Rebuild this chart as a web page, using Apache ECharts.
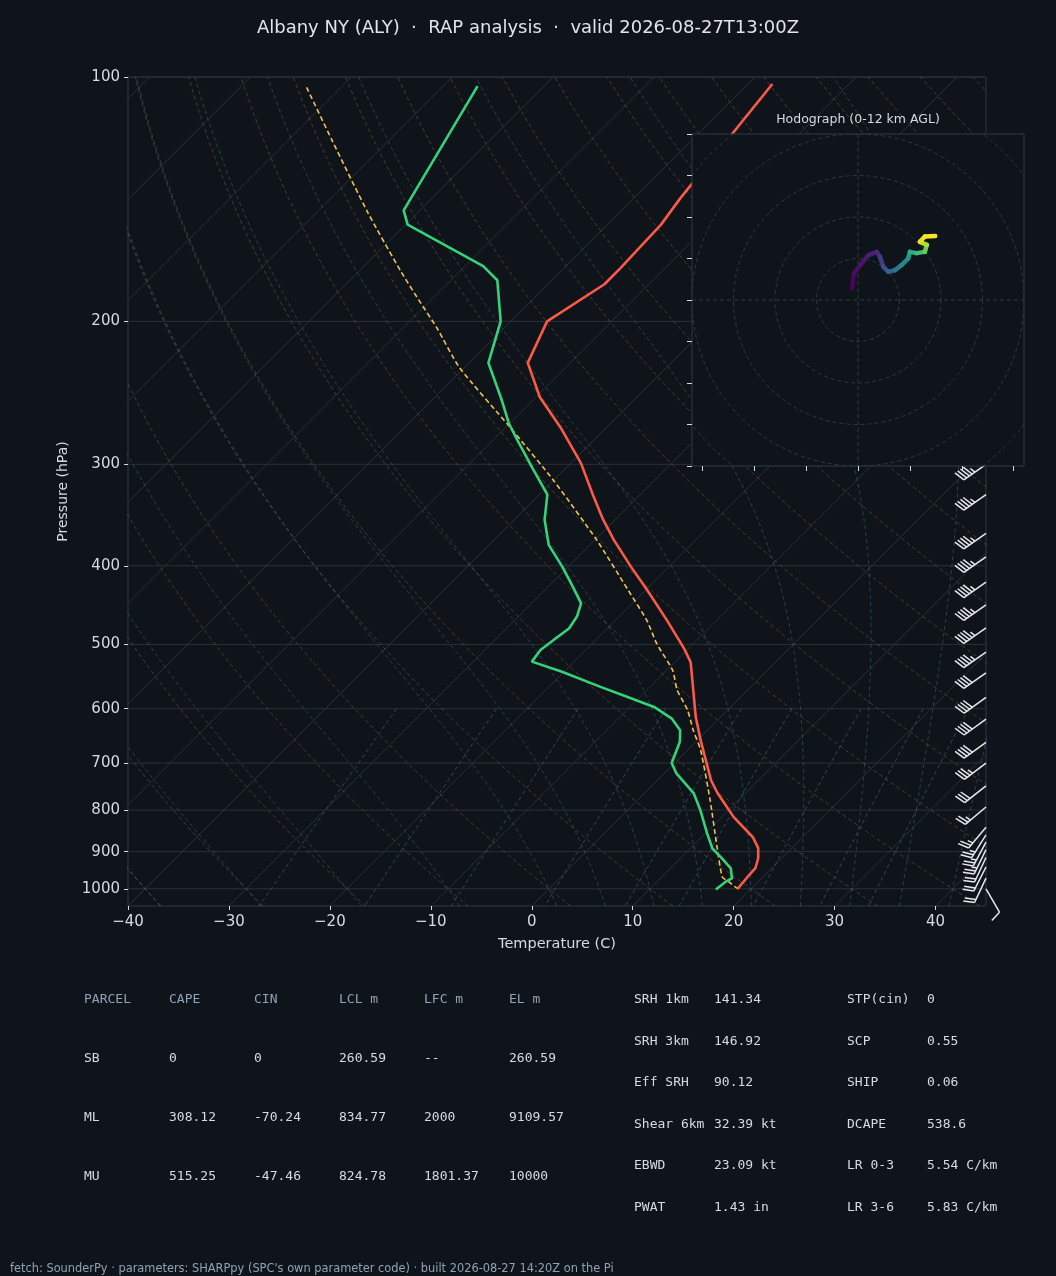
<!DOCTYPE html>
<html>
<head>
<meta charset="utf-8">
<title>Albany NY (ALY) sounding</title>
<script src="https://cdn.jsdelivr.net/npm/echarts@6.0.0/dist/echarts.min.js"></script>
<style>
html,body{margin:0;padding:0;background:#0f141a;}
#chart{width:1056px;height:1276px;}
</style>
</head>
<body>
<div id="chart"></div>
<script>
// axis ticks
const pressureTicks=[100,200,300,400,500,600,700,800,900,1000];
const tempTicks=[-40,-30,-20,-10,0,10,20,30,40];

// temperature profile (hPa / C)
const tempP=[102,141,152,172,180,200,225,248,270,299,329,351,372,401,429,467,506,526,569,614,656,735,762,816,864,891,917,943,967,1001];
const tempC=[-57.6,-55.4,-54.7,-54.4,-54.4,-56.4,-54.2,-49.6,-44.6,-39.0,-34.4,-31.2,-28.1,-23.8,-19.8,-14.9,-10.4,-8.4,-5.4,-2.5,0.3,5.3,7.2,11.2,15.1,16.7,17.7,18.4,18.5,18.7];

// dewpoint profile
const dewP=[102.6,146,152,171,178,200,225,250,267,280,305,327,351,377,401,425,445,462,478,494,508,525,540,564,580,597,617,638,659,700,721,763,800,855,892,913,944,971,980,1002];
const dewC=[-86.6,-81.6,-79.8,-68.2,-65.4,-61.0,-58.1,-53.1,-50.1,-47.6,-43.0,-39.2,-37.0,-34.1,-30.6,-27.5,-25.1,-24.2,-23.8,-24.2,-24.5,-24.2,-20.3,-14.9,-11.3,-7.6,-4.7,-2.7,-1.6,-0.3,1.2,4.9,7.2,10.2,12.2,13.8,16.0,17.1,16.8,16.6];

// surface parcel
const parcelP=[103,120,147,174,188,204,228,270,314,372,429,467,499,538,569,602,638,675,778,888,967,980,999];
const parcelC=[-103.4,-95.5,-84.9,-75.7,-71.3,-66.6,-60.5,-49.6,-40.0,-29.8,-21.7,-16.9,-13.6,-9.4,-7.0,-4.0,-1.4,1.3,7.2,12.5,16.0,17.1,18.6];

// wind barbs (hPa, direction from, kt)
const barbP=[300,327,365,390,419,447,477,511,542,581,618,660,700,747,793,840,858,876,895,915,940,970,1000];
const barbDir=[235,235,235,235,235,235,235,235,235,234,234,234,233,232,230,220,212,208,206,205,207,205,150];
const barbKt=[45,45,45,45,45,45,45,45,40,40,40,40,35,30,25,25,25,25,25,20,20,20,10];

// hodograph (u, v, height km)
const hodoU=[-1.4,-1.0,0.5,2.5,4.5,5.3,6.1,7.3,8.9,10.5,12.1,12.5,14.1,16.1,16.6,14.9,16.1,18.6];
const hodoV=[2.8,6.3,8.4,10.8,11.6,10.4,8.0,6.8,7.2,8.4,10.0,11.6,11.3,11.6,13.3,14.0,15.3,15.4];
const hodoH=[0,0.3,0.6,0.9,1.2,1.6,2.6,3.2,4.4,5.2,6.0,7.0,8.0,8.6,10.0,11.2,11.7,12];
const hodoRings=[10,20,30,40,50];
const hodoXTicks=[-37.5,-25,-12.5,0,12.5,25,37.5];
const hodoYTicks=[-40,-30,-20,-10,0,10,20,30,40];

// reference line families
const dryT0=[];for(let t=-40;t<=240;t+=10)dryT0.push(t);
const moistT0=[-40,-30,-20,-10,0,5,10,15,20,25,30,35,40,45];
const mixRatios=[0.0004,0.001,0.002,0.004,0.007,0.01,0.016,0.024,0.032];
const isoT=[];for(let t=-120;t<=40;t+=10)isoT.push(t);

// tables
const parcelHeader=['PARCEL','CAPE','CIN','LCL m','LFC m','EL m'];
const parcelRows=[
	['SB','0','0','260.59','--','260.59'],
	['ML','308.12','-70.24','834.77','2000','9109.57'],
	['MU','515.25','-47.46','824.78','1801.37','10000']
];
const indexRows=[
	['SRH 1km','141.34','STP(cin)','0'],
	['SRH 3km','146.92','SCP','0.55'],
	['Eff SRH','90.12','SHIP','0.06'],
	['Shear 6km','32.39 kt','DCAPE','538.6'],
	['EBWD','23.09 kt','LR 0-3','5.54 C/km'],
	['PWAT','1.43 in','LR 3-6','5.83 C/km']
];

const BG='#0f141a',FRAME='#2e3845',GRIDC='#28313c',TXT='#d6dbe1',DIM='#8fa2b6';
const plot={left:128,top:77,width:858,height:829};
const hodo={left:692,top:134,width:332,height:332};
const xMin=-40,xMax=45,pTop=100,pBot=1050;
const SK=(plot.height/Math.log10(pBot/pTop))/(plot.width/(xMax-xMin));
const viridis=['#440154','#482475','#414487','#355f8d','#2a788e','#21918c','#22a884','#44bf70','#7ad151','#bddf26','#fde725'];

function skewX(t,p){return t+SK*Math.log10(pBot/p);}
function profile(ps,ts){return ps.map((p,i)=>[skewX(ts[i],p),p]);}
function minus(v){return String(v).replace('-','\u2212');}

const sampleP=[];for(let p=pBot;p>=pTop;p-=10)sampleP.push(p);

function moistRate(t,p){
	const tc=t-273.15;
	const es=6.112*Math.exp(17.67*tc/(tc+243.5));
	const rs=0.622*es/(p-es);
	return (287.04*t+2.501e6*rs)/(1005.7+2.501e6*2.501e6*rs*0.622/(287.04*t*t))/p;
}
function moistCurve(t0){
	const step=(t,p,h)=>{
		const k1=moistRate(t,p),k2=moistRate(t+h/2*k1,p+h/2),k3=moistRate(t+h/2*k2,p+h/2),k4=moistRate(t+h*k3,p+h);
		return t+h/6*(k1+2*k2+2*k3+k4);
	};
	const up=[],down=[];
	let t=t0+273.15,p=1000;
	up.push([p,t]);
	while(p>pTop){t=step(t,p,-5);p-=5;up.push([p,t]);}
	t=t0+273.15;p=1000;
	while(p<pBot){t=step(t,p,5);p+=5;down.push([p,t]);}
	return down.reverse().concat(up).map(a=>[skewX(a[1]-273.15,a[0]),a[0]]);
}
function colorAt(f){
	f=Math.max(0,Math.min(1,f))*(viridis.length-1);
	const i=Math.min(Math.floor(f),viridis.length-2),r=f-i;
	const a=echarts.color.parse(viridis[i]),b=echarts.color.parse(viridis[i+1]);
	return 'rgb('+[0,1,2].map(k=>Math.round(a[k]+(b[k]-a[k])*r)).join(',')+')';
}

function bgLine(data,color,dashed,width){
	return {type:'line',xAxisIndex:0,yAxisIndex:0,data:data,symbol:'none',silent:true,z:1,
		lineStyle:{color:color,width:width||1,type:dashed?[4,3]:'solid'}};
}

const series=[];
pressureTicks.forEach(p=>series.push(bgLine([[xMin,p],[xMax,p]],GRIDC,false,1)));
isoT.forEach(t=>series.push(bgLine([[t,pBot],[skewX(t,pTop),pTop]],GRIDC,false,1)));
dryT0.forEach(t0=>{
	const th=t0+273.15;
	series.push(bgLine(sampleP.map(p=>[skewX(th*Math.pow(p/1000,0.2857)-273.15,p),p]),'rgba(160,115,60,0.42)',true,1));
});
moistT0.forEach(t0=>series.push(bgLine(moistCurve(t0),'rgba(70,120,145,0.45)',true,1)));
mixRatios.forEach(w=>{
	const pts=[];
	for(let p=600;p<=pBot;p+=50){
		const e=p*w/(0.622+w),l=Math.log(e/6.112);
		pts.push([skewX(243.5*l/(17.67-l),p),p]);
	}
	series.push(bgLine(pts,'rgba(70,125,145,0.5)',true,1));
});

series.push({type:'line',name:'parcel',data:profile(parcelP,parcelC),symbol:'none',z:4,smooth:0.2,
	lineStyle:{color:'#f2c443',width:1.6,type:[5,3]}});
series.push({type:'line',name:'T',data:profile(tempP,tempC),symbol:'none',z:5,
	lineStyle:{color:'#fb5a48',width:2.6}});
series.push({type:'line',name:'Td',data:profile(dewP,dewC),symbol:'none',z:5,
	lineStyle:{color:'#35d27a',width:2.6}});

function renderBarb(params,api){
	const o=api.coord([api.value(0),api.value(1)]);
	const a=api.value(2)*Math.PI/180,spd=Math.round(api.value(3)/5)*5;
	const d=[Math.sin(a),-Math.cos(a)],s=[Math.cos(a),Math.sin(a)];
	const L=27,H=L*0.4,W=L*0.25,S=L*0.125;
	const at=(k,h)=>[o[0]+d[0]*k+s[0]*h,o[1]+d[1]*k+s[1]*h];
	const st={stroke:'#e6e9ee',lineWidth:1.5,fill:null};
	const kids=[{type:'polyline',shape:{points:[o,at(L,0)]},style:st}];
	let off=L;
	const n50=Math.floor(spd/50),n10=Math.floor((spd%50)/10),half=(spd%10)>=5;
	for(let i=0;i<n50;i++){
		kids.push({type:'polygon',shape:{points:[at(off,0),at(off-W/2,H),at(off-W,0)]},style:{fill:'#e6e9ee'}});
		off-=W+S;
	}
	for(let i=0;i<n10;i++){
		kids.push({type:'polyline',shape:{points:[at(off,0),at(off+W/2,H)]},style:st});
		off-=S;
	}
	if(half){
		if(off===L)off-=1.5*S;
		kids.push({type:'polyline',shape:{points:[at(off,0),at(off+W/4,H/2)]},style:st});
	}
	return {type:'group',children:kids};
}
series.push({type:'custom',xAxisIndex:0,yAxisIndex:0,z:3,silent:true,renderItem:renderBarb,
	data:barbP.map((p,i)=>[xMax,p,barbDir[i],barbKt[i]])});

// hodograph
function renderRing(params,api){
	const c=api.coord([0,0]),r=api.size([api.value(0),0])[0],cs=params.coordSys;
	return {type:'circle',shape:{cx:c[0],cy:c[1],r:r},
		style:{fill:null,stroke:FRAME,lineWidth:1,lineDash:[4,3]},
		clipPath:{type:'rect',shape:{x:cs.x,y:cs.y,width:cs.width,height:cs.height}}};
}
function renderCross(params,api){
	const c=api.coord([0,0]),cs=params.coordSys;
	const st={stroke:FRAME,lineWidth:1,lineDash:[4,3]};
	return {type:'group',children:[
		{type:'line',shape:{x1:cs.x,y1:c[1],x2:cs.x+cs.width,y2:c[1]},style:st},
		{type:'line',shape:{x1:c[0],y1:cs.y,x2:c[0],y2:cs.y+cs.height},style:st}
	]};
}
function renderHodo(params,api){
	const a=api.coord([api.value(0),api.value(1)]),b=api.coord([api.value(2),api.value(3)]);
	return {type:'line',shape:{x1:a[0],y1:a[1],x2:b[0],y2:b[1]},
		style:{stroke:colorAt(api.value(4)/12),lineWidth:4.5,lineCap:'round'}};
}
const hodoSegs=[];
for(let i=0;i<hodoU.length-1;i++)hodoSegs.push([hodoU[i],hodoV[i],hodoU[i+1],hodoV[i+1],(hodoH[i]+hodoH[i+1])/2]);
series.push({type:'custom',xAxisIndex:1,yAxisIndex:1,z:11,silent:true,renderItem:renderRing,data:hodoRings.map(r=>[r])});
series.push({type:'custom',xAxisIndex:1,yAxisIndex:1,z:11,silent:true,renderItem:renderCross,data:[[0]]});
series.push({type:'custom',xAxisIndex:1,yAxisIndex:1,z:12,silent:true,renderItem:renderHodo,data:hodoSegs});

// text
const graphic=[];
function txt(x,y,text,font,color,align){
	graphic.push({type:'text',x:x,y:y,z:100,silent:true,
		style:{text:text,font:font,fill:color,align:align||'left',verticalAlign:'middle',textAlign:align||'left',textVerticalAlign:'middle'}});
}
txt(528,28,'Albany NY (ALY)  \u00b7  RAP analysis  \u00b7  valid 2026-08-27T13:00Z','18px "DejaVu Sans"','#e1e5ea','center');
txt(858,120,'Hodograph (0-12 km AGL)','12.5px "DejaVu Sans"',TXT,'center');
const mono='13px "DejaVu Sans Mono"';
const pCols=[84,169,254,339,424,509],pRowsY=[1000,1059,1118,1177];
parcelHeader.forEach((h,k)=>txt(pCols[k],pRowsY[0],h,mono,DIM));
parcelRows.forEach((r,j)=>r.forEach((v,k)=>txt(pCols[k],pRowsY[j+1],v,mono,TXT)));
const iCols=[634,714,847,927],iRowsY=[1000,1042,1083,1125,1166,1208];
indexRows.forEach((r,j)=>r.forEach((v,k)=>txt(iCols[k],iRowsY[j],v,mono,TXT)));
txt(10,1269,'fetch: SounderPy \u00b7 parameters: SHARPpy (SPC\'s own parameter code) \u00b7 built 2026-08-27 14:20Z on the Pi','11.4px "DejaVu Sans"',DIM);

const axisFont={color:TXT,fontSize:15,fontFamily:'DejaVu Sans'};
const option={
	backgroundColor:BG,
	animation:false,
	grid:[
		{left:plot.left,top:plot.top,width:plot.width,height:plot.height,show:true,borderColor:FRAME,borderWidth:1,backgroundColor:'transparent'},
		{left:hodo.left,top:hodo.top,width:hodo.width,height:hodo.height,show:true,borderColor:FRAME,borderWidth:1,backgroundColor:BG,z:10}
	],
	xAxis:[
		{type:'value',gridIndex:0,min:xMin,max:xMax,
			name:'Temperature (C)',nameLocation:'middle',nameGap:31,
			nameTextStyle:{color:TXT,fontSize:14.5,fontFamily:'DejaVu Sans'},
			axisLine:{show:false,onZero:false},splitLine:{show:false},
			axisTick:{show:true,length:4,lineStyle:{color:TXT},customValues:tempTicks},
			axisLabel:Object.assign({margin:9,customValues:tempTicks,formatter:minus},axisFont)},
		{type:'value',gridIndex:1,min:-40,max:40,z:12,
			axisLine:{show:false,onZero:false},splitLine:{show:false},axisLabel:{show:false},
			axisTick:{show:true,length:5,lineStyle:{color:TXT},customValues:hodoXTicks}}
	],
	yAxis:[
		{type:'log',logBase:10,gridIndex:0,min:pTop,max:pBot,inverse:true,
			name:'Pressure (hPa)',nameLocation:'middle',nameGap:58,nameRotate:90,
			nameTextStyle:{color:TXT,fontSize:14,fontFamily:'DejaVu Sans'},
			axisLine:{show:false,onZero:false},splitLine:{show:false},minorTick:{show:false},
			axisTick:{show:true,length:4,lineStyle:{color:TXT},customValues:pressureTicks},
			axisLabel:Object.assign({margin:8,customValues:pressureTicks,formatter:v=>String(Math.round(v))},axisFont)},
		{type:'value',gridIndex:1,min:-40,max:40,z:12,
			axisLine:{show:false,onZero:false},splitLine:{show:false},axisLabel:{show:false},
			axisTick:{show:true,length:5,lineStyle:{color:TXT},customValues:hodoYTicks}}
	],
	graphic:graphic,
	series:series
};

const chart=echarts.init(document.getElementById('chart'));
chart.setOption(option);
</script>
</body>
</html>
